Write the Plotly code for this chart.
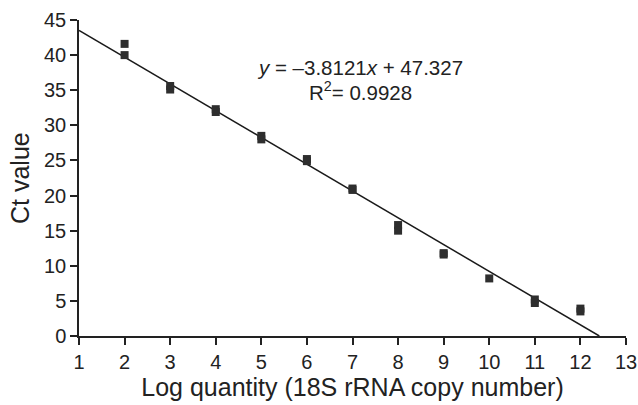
import plotly.graph_objects as go

# Data
log_quantity = [2, 2, 3, 3, 4, 4, 5, 5, 6, 6, 7, 7, 8, 8, 9, 9, 10, 11, 11, 12, 12]
ct_values = [41.6, 40.0, 35.6, 35.1, 32.3, 31.9, 28.5, 28.0, 25.2, 24.9,
             21.0, 20.8, 15.8, 15.0, 11.8, 11.6, 8.2, 5.2, 4.7, 3.9, 3.5]
slope = -3.8121
intercept = 47.327
r_squared = 0.9928
x_ticks = list(range(1, 14))
y_ticks = list(range(0, 50, 5))

x_start = 1
x_end = -intercept / slope
fit_x = [x_start, x_end]
fit_y = [slope * v + intercept for v in fit_x]

font = "Liberation Sans, Arial, Helvetica, sans-serif"
fig = go.Figure()
fig.add_trace(go.Scatter(x=fit_x, y=fit_y, mode="lines",
                         line=dict(color="#1a1a1a", width=1.5),
                         showlegend=False, hoverinfo="skip"))
fig.add_trace(go.Scatter(x=log_quantity, y=ct_values, mode="markers",
                         marker=dict(symbol="square", size=8, color="#2e2e2e"),
                         showlegend=False))

fig.add_annotation(x=7.17, y=38.3, xref="x", yref="y",
                   text="<i>y</i> = \u20133.8121<i>x</i> + 47.327",
                   showarrow=False, xanchor="center", yanchor="middle",
                   font=dict(family=font, size=20.5, color="#222"))
fig.add_annotation(x=7.17, y=34.9, xref="x", yref="y",
                   text=f"R<sup>2</sup>= {r_squared}",
                   showarrow=False, xanchor="center", yanchor="middle",
                   font=dict(family=font, size=20.5, color="#222"))

# y-axis title
fig.add_annotation(x=0, y=0.5, xref="paper", yref="paper", xshift=-59,
                   text="Ct value", textangle=-90, showarrow=False,
                   xanchor="center", yanchor="middle",
                   font=dict(family=font, size=25, color="#222"))

fig.update_layout(
    width=638, height=405,
    margin=dict(l=79, r=12, t=20, b=69, autoexpand=False),
    plot_bgcolor="white", paper_bgcolor="white",
    font=dict(family=font, color="#222"),
    xaxis=dict(range=[1, 13], tickvals=x_ticks, ticktext=[str(v) for v in x_ticks],
               showgrid=False, zeroline=False, showline=True, linecolor="#222", linewidth=1.5,
               ticks="outside", ticklen=7, tickwidth=1.5, tickcolor="#222",
               tickfont=dict(size=20, family=font, color="#222"),
               title=dict(text="Log quantity (18S rRNA copy number)",
                          font=dict(size=25, family=font, color="#222"), standoff=7)),
    yaxis=dict(range=[0, 45], tickvals=y_ticks, ticktext=[str(v) for v in y_ticks],
               showgrid=False, zeroline=False, showline=True, linecolor="#222", linewidth=1.5,
               ticks="outside", ticklen=7, tickwidth=1.5, tickcolor="#222",
               tickfont=dict(size=20, family=font, color="#222")),
)

fig.write_html("out.html", config={"displayModeBar": False},
               post_script="document.body.style.margin='0';document.body.style.padding='0';")
